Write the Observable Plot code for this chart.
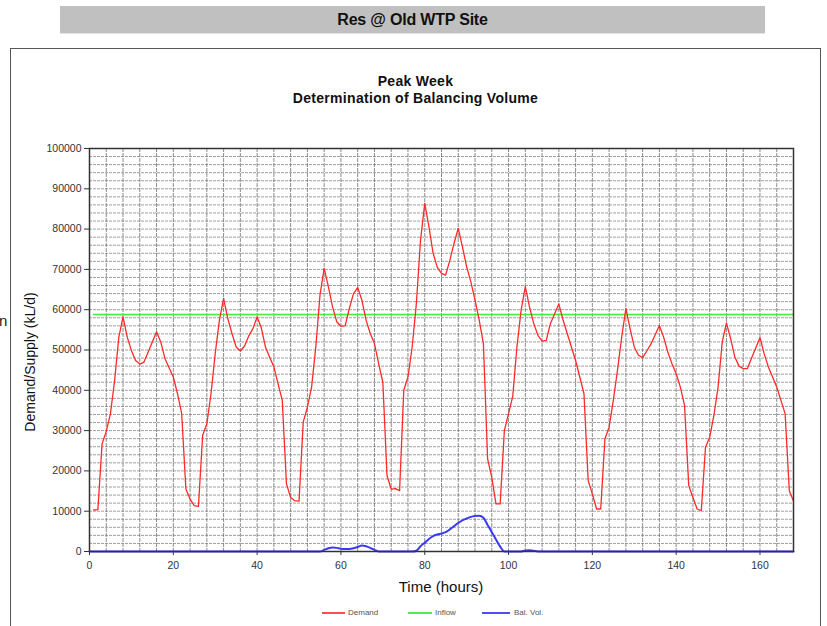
<!DOCTYPE html>
<html><head><meta charset="utf-8">
<script src="https://cdn.jsdelivr.net/npm/d3@7"></script>
<script src="https://cdn.jsdelivr.net/npm/@observablehq/plot@0.6"></script>
<style>
body{margin:0;background:#fff;font-family:"Liberation Sans",Arial,sans-serif;}
#wrap{position:relative;width:827px;height:626px;overflow:hidden;background:#fff;}
.abs{position:absolute;}
#banner{left:60px;top:6px;width:705px;height:27px;background:#c0c0c0;border-bottom:1px solid #e2e2e2;text-align:center;font-weight:bold;font-size:16px;line-height:27px;color:#111;letter-spacing:-0.2px;}
#frame{left:10px;top:48px;width:811px;height:620px;border:1.5px solid #555;box-sizing:border-box;}
#title{left:10px;width:811px;top:73px;text-align:center;font-weight:bold;font-size:14px;line-height:17px;color:#111;letter-spacing:0.3px;}
#xlab{left:341px;width:200px;top:578px;text-align:center;font-size:15px;color:#111;}
#ylab{left:30px;top:362px;transform:translate(-50%,-50%) rotate(-90deg);font-size:14px;color:#111;white-space:nowrap;}
.lg{top:608px;font-size:8px;color:#555;}
.ll{top:612px;height:2px;}
#frag{left:-1px;top:312px;font-size:15px;color:#222;}
#plot{left:0;top:0;width:827px;height:626px;}
#plot svg{max-width:none !important;}
</style></head>
<body><div id="wrap">
<div id="banner" class="abs">Res @ Old WTP Site</div>
<div id="frame" class="abs"></div>
<div id="frag" class="abs">n</div>
<div id="title" class="abs">Peak Week<br>Determination of Balancing Volume</div>
<div id="xlab" class="abs">Time (hours)</div>
<div id="ylab" class="abs">Demand/Supply (kL/d)</div>
<div id="plot" class="abs"></div>
<div class="abs ll" style="left:322px;width:23px;background:#ff4d4d"></div>
<div class="abs lg" style="left:348px">Demand</div>
<div class="abs ll" style="left:408px;width:24px;background:#4dee4d"></div>
<div class="abs lg" style="left:435px">Inflow</div>
<div class="abs ll" style="left:482px;width:28px;background:#4d4dff"></div>
<div class="abs lg" style="left:514px">Bal. Vol.</div>
</div>
<script>
// Demand (kL/d), hourly from hour 1 to hour 168
const demand = [
 10300,10400,26700,29800,34200,42500,53200,58200,53200,49900,47400,46500,47000,49500,52000,54500,52000,47900,45600,43300,39150,34200,15500,13000,
 11400,11200,28800,31700,39150,49100,57400,62800,57800,54100,50750,49750,51000,53500,55300,58200,55500,50700,48200,45800,41600,37500,16800,13400,
 12600,12500,32100,35800,40800,50700,63600,70250,65700,60700,57000,55900,56000,60300,64000,65500,62400,57400,54100,51600,46600,42000,18800,15500,
 15600,15100,40000,43300,50750,61500,77300,86400,80600,74000,70500,69000,68600,72300,76500,80200,75600,70650,66900,62400,57400,51600,23000,18400,
 11800,11800,30000,34200,38500,50750,59900,65700,60700,56600,53650,52200,52400,56600,59000,61400,57500,54100,50750,47400,43300,39150,17600,14300,
 10550,10550,28000,30850,37500,45000,53200,60300,55300,50750,48700,48100,49750,51500,53800,56100,53200,49500,46600,44100,40800,36250,16350,13400,
 10550,10150,25870,28360,33750,40800,52000,56700,52800,48260,46000,45370,45400,48000,50500,53100,49100,45800,43300,40800,37500,34200,15100,12500
];
const firstHour = 1;
// Inflow (constant supply)
const inflowHours = [1, 168];
const inflowValues = [58800, 58800];
// Balancing volume
const balHours = [0,55,56,57,58,59,60,61,62,63,64,65,66,67,68,69,
  77,78,79,80,81,82,83,84,85,86,87,88,89,90,91,92,93,94,95,96,97,98,99,
  103,104,105,106,107,168];
const balValues = [0,0,400,800,1000,900,700,650,650,800,1100,1500,1300,900,400,0,
  0,200,1300,2200,3100,3800,4200,4450,4800,5500,6300,7100,7750,8200,8600,8800,8870,8400,6600,4800,3000,1200,0,
  0,250,300,200,0,0];
const xTicks = [0,20,40,60,80,100,120,140,160];
const yTicks = [0,10000,20000,30000,40000,50000,60000,70000,80000,90000,100000];

const demandData = demand.map((v,i)=>({h:i+firstHour, v}));
const inflowData = inflowHours.map((h,i)=>({h, v:inflowValues[i]}));
const balData = balHours.map((h,i)=>({h, v:balValues[i]}));

const gridX = d3.range(4,168,4);
const gridY = d3.range(2000,100000,2000);

const chart = Plot.plot({
  width: 827, height: 626,
  marginLeft: 89, marginRight: 34, marginTop: 148, marginBottom: 75,
  style: {background:"transparent", fontFamily:"'Liberation Sans', Arial, sans-serif", fontSize:"10.5px", color:"#333", maxWidth:"none"},
  x: {domain:[0,168], ticks: xTicks, tickSize:4, tickPadding:6, label:null},
  y: {domain:[0,100000], ticks: yTicks, tickSize:5, tickPadding:3, label:null, tickFormat: d=>String(d)},
  marks: [
    Plot.ruleY(gridY, {stroke:"#777", strokeOpacity:0.7, strokeWidth:1, strokeDasharray:"3,1"}),
    Plot.ruleX(gridX, {stroke:"#666", strokeOpacity:0.75, strokeWidth:1, strokeDasharray:"4,1"}),
    Plot.line(inflowData, {x:"h", y:"v", stroke:"#3cf03c", strokeWidth:1.6}),
    Plot.line(demandData, {x:"h", y:"v", stroke:"#ff2a2a", strokeWidth:1.3}),
    Plot.line(balData, {x:"h", y:"v", stroke:"#3a3af5", strokeWidth:2, curve:"monotone-x"}),
    Plot.frame({stroke:"#333", strokeWidth:1.5})
  ]
});
chart.style.position = "absolute";
chart.style.left = "0px";
chart.style.top = "0px";
chart.style.maxWidth = "none";
chart.setAttribute("width", 827);
chart.setAttribute("height", 626);
chart.style.width = "827px";
chart.style.height = "626px";
document.getElementById("plot").appendChild(chart);
</script>
</body></html>
